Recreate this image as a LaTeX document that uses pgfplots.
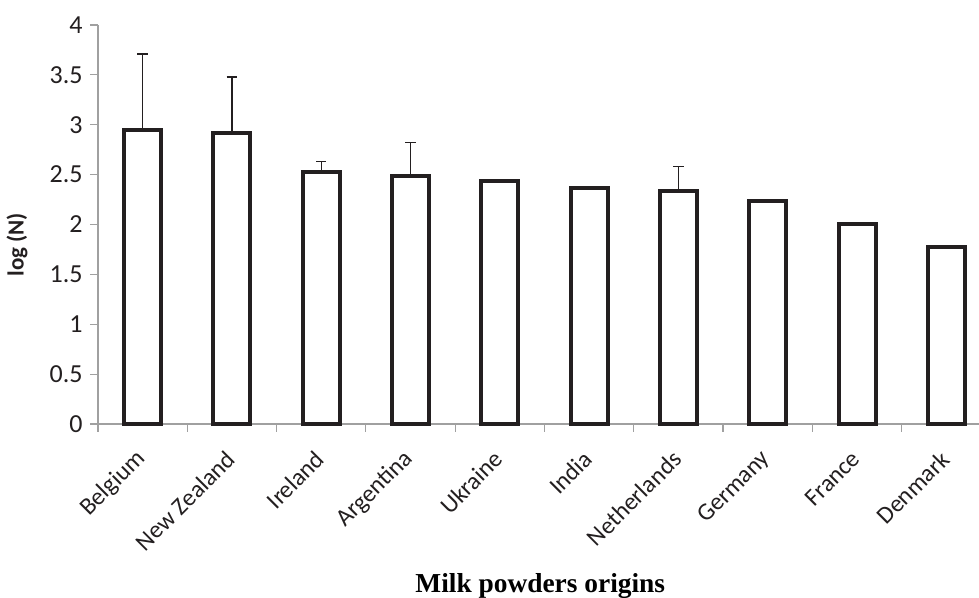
\documentclass[border=0pt]{standalone}
\usepackage{fontspec}
\setmainfont{Carlito}
\newfontfamily\timesfont{Liberation Serif}
\usepackage{pgfplots}
\usepackage{pgfplotstable}
\pgfplotsset{compat=1.18}
\definecolor{barc}{HTML}{231F20}
\definecolor{axc}{HTML}{A0A0A0}
\definecolor{txtc}{HTML}{231F20}
\pgfplotstableread{
x y e
0 2.95 0.76
1 2.92 0.56
2 2.53 0.10
3 2.49 0.33
4 2.44 0
5 2.37 0
6 2.34 0.24
7 2.24 0
8 2.00 0
9 1.77 0
}\milk
\begin{document}
\begin{tikzpicture}
\begin{axis}[
  name=ax,
  scale only axis,
  width=440.5pt, height=199.5pt,
  xmin=-0.5, xmax=9.366,
  ymin=0, ymax=4,
  ytick={0,0.5,...,4},
  axis lines=left,
  axis line style={-, draw=axc, line width=0.6pt},
  tick align=outside,
  xtick={0,...,9},
  major x tick style={draw=none},
  minor xtick={-0.5,0.5,...,8.5},
  minor tick length=4pt,
  minor x tick style={draw=axc, line width=0.6pt},
  major tick length=4pt,
  y tick style={draw=axc, line width=0.6pt},
  xticklabels={Belgium,New Zealand,Ireland,Argentina,Ukraine,India,Netherlands,Germany,France,Denmark},
  tick label style={font=\fontsize{12.2}{14}\selectfont, text=txtc},
  /pgf/number format/assume math mode=true,
  yticklabel style={inner sep=0pt, xshift=-3.5pt, font=\fontsize{13}{15}\selectfont},
  xticklabel style={yshift=-11.5pt, xshift=-0.5pt, rotate=45, anchor=east, inner sep=0pt},
  ylabel={\bfseries log (N)},
  every axis y label/.style={at={(axis description cs:-0.0919,0.449)}, rotate=90, anchor=center, font=\fontsize{11.5}{13}\selectfont, text=txtc},
  xlabel={\timesfont\bfseries Milk powders origins},
  every axis x label/.style={at={(axis description cs:0.502,0)}, anchor=base, yshift=-84.5pt, font=\fontsize{13.7}{15}\selectfont, text=black},
  ybar,
  bar width=18.5pt,
  clip=false,
]
\addplot[draw=barc, fill=white, line width=2pt,
  error bars/.cd, y dir=plus, y explicit,
  error bar style={line width=0.65pt, draw=barc},
  error mark options={rotate=90, mark size=2.6pt, line width=0.65pt, draw=barc}]
  table[x=x, y=y, y error=e] {\milk};
\end{axis}
\pgfresetboundingbox
\path[use as bounding box] ([xshift=-49pt, yshift=-87pt]ax.south west) rectangle ([yshift=12.5pt]ax.north east);
\end{tikzpicture}
\end{document}
